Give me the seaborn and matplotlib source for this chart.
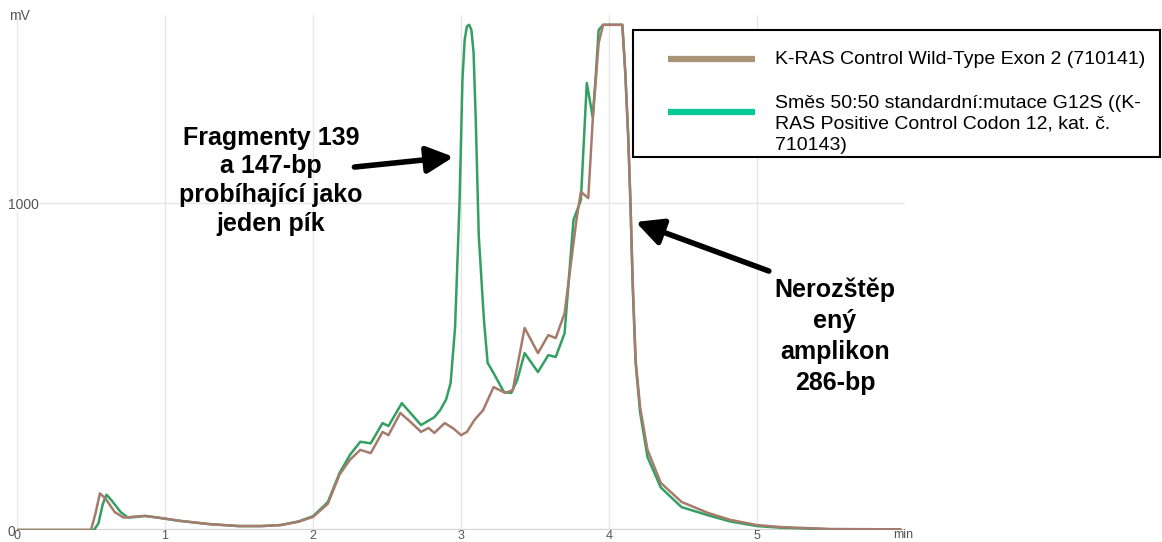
import numpy as np
import pandas as pd
import matplotlib
matplotlib.use("Agg")
import matplotlib.pyplot as plt
from matplotlib.patches import Rectangle
from matplotlib.lines import Line2D
import seaborn as sns

# Retention time (min) and signal (mV) for the two electropherogram traces
wt_time = [0.0, 0.50, 0.53, 0.56, 0.60, 0.66, 0.72, 0.78, 0.86, 0.95, 1.10, 1.30,
           1.50, 1.65, 1.78, 1.90, 2.00, 2.10, 2.18, 2.25, 2.32, 2.39, 2.47, 2.51,
           2.59, 2.66, 2.73, 2.78, 2.82, 2.89, 2.95, 3.00, 3.04, 3.09, 3.15, 3.22,
           3.30, 3.35, 3.43, 3.52, 3.59, 3.64, 3.70, 3.78, 3.81, 3.86, 3.89, 3.93,
           3.96, 4.09, 4.11, 4.13, 4.145, 4.16, 4.18, 4.21, 4.26, 4.35, 4.49, 4.67,
           4.82, 5.00, 5.16, 5.50, 5.97]
wt_signal = [0, 0, 50, 112, 95, 55, 38, 40, 43, 38, 28, 18,
             12, 12, 15, 25, 40, 80, 170, 215, 245, 235, 300, 290,
             358, 330, 300, 312, 297, 327, 310, 290, 300, 336, 367, 437,
             419, 428, 618, 541, 596, 587, 663, 948, 1034, 1015, 1254, 1489,
             1545, 1545, 1400, 1200, 1000, 760, 520, 376, 245, 144, 86, 52,
             31, 15, 9, 3, 2]

mix_time = [0.0, 0.52, 0.55, 0.58, 0.605, 0.64, 0.70, 0.75, 0.80, 0.87, 0.95, 1.10,
            1.30, 1.50, 1.65, 1.78, 1.90, 2.00, 2.10, 2.18, 2.25, 2.32, 2.39, 2.47,
            2.51, 2.60, 2.73, 2.82, 2.86, 2.90, 2.93, 2.96, 2.99, 3.01, 3.025, 3.04,
            3.055, 3.07, 3.085, 3.10, 3.12, 3.155, 3.18, 3.22, 3.29, 3.34, 3.38, 3.43,
            3.52, 3.59, 3.64, 3.70, 3.76, 3.81, 3.85, 3.89, 3.91, 3.93, 3.96, 4.09,
            4.11, 4.13, 4.145, 4.16, 4.18, 4.21, 4.26, 4.35, 4.49, 4.67, 4.82, 5.00,
            5.16, 5.50, 5.97]
mix_signal = [0, 0, 20, 80, 108, 90, 55, 38, 40, 43, 38, 28,
              18, 12, 12, 15, 26, 42, 85, 175, 230, 270, 265, 327,
              318, 388, 321, 345, 367, 400, 450, 620, 1000, 1380, 1500, 1540,
              1545, 1530, 1460, 1250, 900, 642, 511, 480, 422, 419, 459, 541,
              483, 535, 529, 602, 948, 1009, 1367, 1263, 1385, 1529, 1545, 1545,
              1400, 1200, 1000, 750, 510, 360, 223, 130, 70, 45, 26, 12,
              7, 2, 1]

series_names = ["K-RAS Control Wild-Type Exon 2 (710141)",
                "Směs 50:50 standardní:mutace G12S ((K-RAS Positive Control Codon 12, kat. č. 710143)"]
x_ticks = [0, 1, 2, 3, 4, 5]
y_ticks = [0, 1000]

line_colors = {series_names[0]: "#a57b6c", series_names[1]: "#33a062"}
legend_colors = ["#a89377", "#00c995"]

df = pd.concat([
    pd.DataFrame({"time": mix_time, "signal": mix_signal, "sample": series_names[1]}),
    pd.DataFrame({"time": wt_time, "signal": wt_signal, "sample": series_names[0]}),
], ignore_index=True)

sns.set_style("white")
plt.rcParams["font.family"] = ["Liberation Sans", "DejaVu Sans"]

W, H = 1162, 542
fig = plt.figure(figsize=(W / 100, H / 100), dpi=100)


def fx(px):
    return px / W


def fy(py):
    return 1 - py / H


ax = fig.add_axes([fx(17), fy(530), (905 - 17) / W, (530 - 15) / H])
sns.lineplot(data=df, x="time", y="signal", hue="sample", palette=line_colors,
             hue_order=[series_names[1], series_names[0]], sort=False,
             estimator=None, lw=1.8, legend=False, ax=ax)

ax.set_xlim(0, 6.0)
ax.set_ylim(0, 1575)
ax.set_xticks(x_ticks)
ax.set_yticks(y_ticks)
ax.set_xlabel("")
ax.set_ylabel("")
for s in ax.spines.values():
    s.set_visible(False)
ax.grid(True, color="#e6e6e6", lw=1.0)
ax.axhline(0, color="#cfcfcf", lw=1.6, zorder=0.5)
ax.tick_params(axis="x", length=0, pad=0, labelsize=9, labelcolor="#555555")
ax.tick_params(axis="y", length=0, pad=6.5, labelsize=10, labelcolor="#555555")
for lbl in ax.get_yticklabels():
    lbl.set_ha("left")
ax.get_yticklabels()[1].set_bbox(dict(facecolor="white", edgecolor="none", pad=0.5))

fig.text(fx(9), fy(16), "mV", fontsize=10, color="#555555", va="center", ha="left")
fig.text(fx(893), fy(535), "min", fontsize=9, color="#555555", va="center", ha="left")

# Annotations with arrows
arrow_kw = dict(arrowstyle="-|>,head_length=0.9,head_width=0.45", lw=4,
                color="black", mutation_scale=18, shrinkA=0, shrinkB=0)
ax.annotate("", xy=(2.95, 1141), xytext=(2.28, 1110), arrowprops=arrow_kw)
ax.annotate("", xy=(4.18, 942), xytext=(5.08, 792), arrowprops=arrow_kw)

left_note = ["Fragmenty 139", "a 147-bp", "probíhající jako", "jeden pík"]
for i, t in enumerate(left_note):
    fig.text(fx(271), fy(138 + 28.5 * i), t, fontsize=18, fontweight="bold",
             ha="center", va="center", color="black")
right_note = ["Nerozštěp", "ený", "amplikon", "286-bp"]
for i, t in enumerate(right_note):
    fig.text(fx(835), fy(290 + 31 * i), t, fontsize=18, fontweight="bold",
             ha="center", va="center", color="black")

# Legend box
fig.patches.append(Rectangle((fx(633), fy(157)), fx(1160) - fx(633), fy(30) - fy(157),
                             transform=fig.transFigure, fill=True, facecolor="white",
                             edgecolor="black", lw=1.5, zorder=5))
fig.lines.append(Line2D([fx(668), fx(755)], [fy(59), fy(59)], transform=fig.transFigure,
                        color=legend_colors[0], lw=4.5, solid_capstyle="butt", zorder=6))
fig.lines.append(Line2D([fx(668), fx(755)], [fy(112), fy(112)], transform=fig.transFigure,
                        color=legend_colors[1], lw=4.5, solid_capstyle="butt", zorder=6))
fig.text(fx(775), fy(59), series_names[0], fontsize=14, va="center", ha="left",
         zorder=7, color="black")
mix_lines = ["Směs 50:50 standardní:mutace G12S ((K-",
             "RAS Positive Control Codon 12, kat. č.",
             "710143)"]
for i, t in enumerate(mix_lines):
    fig.text(fx(775), fy(103 + 21.5 * i), t, fontsize=14, va="center", ha="left",
             zorder=7, color="black")

fig.savefig("out.png", dpi=100)
